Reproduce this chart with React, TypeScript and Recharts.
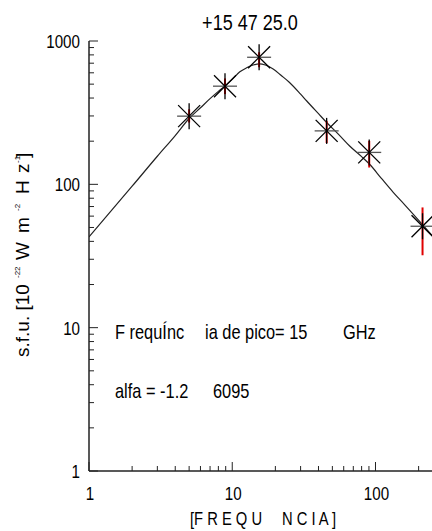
import React from 'react';
import { ComposedChart, Line, Scatter, ErrorBar, XAxis, YAxis } from 'recharts';

// no narrow font installed: squeeze Liberation Sans like Arial Narrow
const FONT = '"Liberation Sans", Arial, sans-serif';
const SQUEEZE = 0.82;

// measured points: frequency (GHz) and flux (s.f.u.)
const obsFreq = [5.0, 8.9, 15.4, 45.6, 90.4, 213];
const obsFlux = [299, 484, 770, 236, 167, 51];
const obsErrLow = [29, 58, 114, 42, 36, 19];
const obsErrHigh = [35, 64, 65, 41, 34, 18];

// fitted spectrum
const fitFreq = [1, 2, 3, 4, 5, 6, 7, 8, 9, 10, 11.3, 12.6, 14, 15.5, 17, 19.3, 22, 25, 30, 33, 40, 45.6, 55, 66, 80, 91, 110, 133, 160, 204, 248];
const fitFlux = [43, 97, 157, 219, 288, 342, 396, 445, 490, 540, 610, 650, 680, 692, 680, 637, 574, 516, 426, 383, 311, 270, 224, 185, 156, 138, 110, 88, 72, 55, 44];

const xMajor = [1, 10, 100];
const xMinor = [2, 3, 4, 5, 6, 7, 8, 9, 20, 30, 40, 50, 60, 70, 80, 90, 200];
const yMajor = [1, 10, 100, 1000];
const yMinor = [2, 3, 4, 5, 6, 7, 8, 9, 20, 30, 40, 50, 60, 70, 80, 90, 200, 300, 400, 500, 600, 700, 800, 900];

const xTicks = [...xMajor, ...xMinor].sort((a, b) => a - b);
const yTicks = [...yMajor, ...yMinor].sort((a, b) => a - b);

const points = obsFreq.map((f, i) => ({ f, s: obsFlux[i], err: [obsErrLow[i], obsErrHigh[i]] }));
const fit = fitFreq.map((f, i) => ({ f, s: fitFlux[i] }));

const AXIS = '#222';

const NText = ({ x, y, size, anchor = 'start', rotate = 0, squeeze = SQUEEZE, children }: any) => (
  <text
    transform={`translate(${x},${y}) rotate(${rotate}) scale(${squeeze},1)`}
    fontSize={size}
    fontFamily={FONT}
    textAnchor={anchor}
    fill="#000"
  >
    {children}
  </text>
);

const BottomTick = ({ x, y, payload }: any) => {
  const major = xMajor.includes(payload.value);
  return (
    <g>
      <line x1={x} y1={y} x2={x} y2={y - (major ? 9 : 5)} stroke={AXIS} />
      {major && (
        <NText x={x + 1} y={y + 29} size={18.5} anchor="middle">
          {payload.value}
        </NText>
      )}
    </g>
  );
};

const TopTick = ({ x, y, payload }: any) => {
  const major = xMajor.includes(payload.value);
  return <line x1={x} y1={y} x2={x} y2={y + (major ? 9 : 5)} stroke={AXIS} />;
};

const LeftTick = ({ x, y, payload }: any) => {
  const major = yMajor.includes(payload.value);
  return (
    <g>
      <line x1={x} y1={y} x2={x + (major ? 9 : 5)} y2={y} stroke={AXIS} />
      {major && (
        <NText x={x - 9} y={y + 7} size={18.5} anchor="end">
          {payload.value}
        </NText>
      )}
    </g>
  );
};

const RightTick = ({ x, y, payload }: any) => {
  const major = yMajor.includes(payload.value);
  return <line x1={x} y1={y} x2={x - (major ? 9 : 5)} y2={y} stroke={AXIS} />;
};

const Star = ({ cx, cy }: any) => (
  <g stroke="#000" strokeWidth={1.3}>
    <line x1={cx - 12} y1={cy} x2={cx + 12} y2={cy} stroke="#555" />
    <line x1={cx} y1={cy - 13} x2={cx} y2={cy + 13} />
    <line x1={cx - 11} y1={cy - 11} x2={cx + 11} y2={cy + 11} />
    <line x1={cx - 11} y1={cy + 11} x2={cx + 11} y2={cy - 11} />
  </g>
);

const Nothing = () => <g />;

export default function App() {
  return (
    <div style={{ position: 'absolute', left: 0, top: 0, width: 432, height: 531, background: '#fff' }}>
      <ComposedChart width={432} height={531} margin={{ top: 41, right: 0, bottom: 0, left: 0 }}>
        <XAxis
          dataKey="f"
          type="number"
          scale="log"
          domain={[1, 248]}
          allowDataOverflow
          ticks={xTicks}
          interval={0}
          tickSize={0}
          tickMargin={0}
          tick={<BottomTick />}
          height={60}
          stroke={AXIS}
          strokeWidth={1.5}
        />
        <XAxis
          xAxisId="top"
          orientation="top"
          dataKey="f"
          type="number"
          scale="log"
          domain={[1, 248]}
          allowDataOverflow
          ticks={xTicks}
          interval={0}
          tickSize={0}
          tickMargin={0}
          tick={<TopTick />}
          height={0}
          stroke={AXIS}
          strokeWidth={1.5}
        />
        <YAxis
          dataKey="s"
          type="number"
          scale="log"
          domain={[1, 1000]}
          allowDataOverflow
          ticks={yTicks}
          interval={0}
          tickSize={0}
          tickMargin={0}
          tick={<LeftTick />}
          width={89}
          stroke={AXIS}
          strokeWidth={1.5}
        />
        <YAxis
          yAxisId="right"
          orientation="right"
          dataKey="s"
          type="number"
          scale="log"
          domain={[1, 1000]}
          allowDataOverflow
          ticks={yTicks}
          interval={0}
          tickSize={0}
          tickMargin={0}
          tick={<RightTick />}
          width={0}
          stroke={AXIS}
          strokeWidth={1.5}
        />
        <Line
          data={fit}
          dataKey="s"
          type="monotone"
          stroke="#222"
          strokeWidth={1.2}
          dot={false}
          isAnimationActive={false}
        />
        <Scatter data={points} dataKey="s" shape={<Star />} isAnimationActive={false} />
        <Scatter data={points} dataKey="s" shape={<Nothing />} isAnimationActive={false}>
          <ErrorBar dataKey="err" direction="y" width={0} stroke="#e00000" strokeWidth={2} isAnimationActive={false} />
        </Scatter>
      </ComposedChart>
      <svg width={432} height={531} style={{ position: 'absolute', left: 0, top: 0, pointerEvents: 'none' }}>
        <NText x={250} y={30} size={22} anchor="middle">+15 47 25.0</NText>
        <NText x={115} y={339} size={20}>F requÍnc</NText>
        <NText x={205} y={339} size={20}>ia de pico= 15</NText>
        <NText x={343} y={339} size={20}>GHz</NText>
        <NText x={115} y={398} size={20}>alfa = -1.2</NText>
        <NText x={213} y={398} size={20}>6095</NText>
        <NText x={190} y={525} size={18}>[F R E Q U</NText>
        <NText x={282} y={525} size={18}>N C I A ]</NText>
        <NText x={29} y={357} size={19} rotate={-90} squeeze={1}>
          s.f.u. [10
          <tspan x={79} y={-9} fontSize={8}>-22</tspan>
          <tspan x={97} y={0}>W</tspan>
          <tspan x={124} y={0}>m</tspan>
          <tspan x={146} y={-9} fontSize={8}>-2</tspan>
          <tspan x={163} y={0}>H</tspan>
          <tspan x={184} y={0}>z</tspan>
          <tspan x={194} y={-9} fontSize={8}>-1</tspan>
          <tspan x={199} y={0}>]</tspan>
        </NText>
      </svg>
    </div>
  );
}
